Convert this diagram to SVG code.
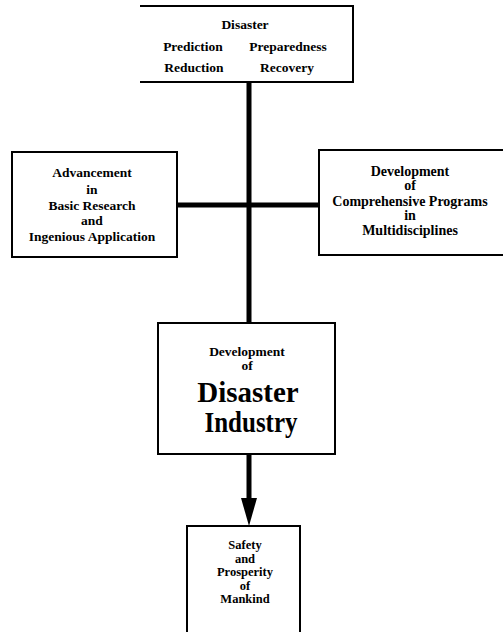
<svg xmlns="http://www.w3.org/2000/svg" width="503" height="632" viewBox="0 0 503 632">
<style>
.box{fill:#fff;stroke:#000;stroke-width:2}
.t{font-family:"Liberation Serif","Times New Roman",serif;font-weight:bold;font-size:13.5px;text-anchor:middle;fill:#000}
.big{font-size:29px}
.sm{font-size:12.5px}
.con{stroke:#000;stroke-width:5;fill:none}
</style>
<rect width="503" height="632" fill="#fff"/>
<g id="connectors">
<line class="con" x1="249" y1="82" x2="249" y2="323"/>
<line class="con" x1="177" y1="205" x2="319" y2="205"/>
<line class="con" x1="249" y1="454" x2="249" y2="502"/>
<polygon points="241,498 257,498 249,526" fill="#000"/>
</g>
<g id="n-disaster">
<path class="box" d="M140,6 H353 V82 H140"/>
<text class="t" x="245" y="29">Disaster</text>
<text class="t" x="193" y="51">Prediction</text>
<text class="t" x="288" y="51">Preparedness</text>
<text class="t" x="194" y="72">Reduction</text>
<text class="t" x="287" y="72">Recovery</text>
</g>
<g id="n-advancement">
<rect class="box" x="12" y="152" width="165" height="105"/>
<text class="t" x="92" y="177">Advancement</text>
<text class="t" x="92" y="194">in</text>
<text class="t" x="92" y="210">Basic Research</text>
<text class="t" x="92" y="225">and</text>
<text class="t" x="92" y="241">Ingenious Application</text>
</g>
<g id="n-development">
<path class="box" d="M505,150 H319 V255 H505"/>
<text class="t" x="410" y="176" style="font-size:14px">Development</text>
<text class="t" x="410" y="190" style="font-size:14px">of</text>
<text class="t" x="410" y="206" style="font-size:14px">Comprehensive Programs</text>
<text class="t" x="410" y="220" style="font-size:14px">in</text>
<text class="t" x="410" y="235" style="font-size:14px">Multidisciplines</text>
</g>
<g id="n-industry">
<rect class="box" x="158" y="323" width="177" height="131"/>
<text class="t" x="247" y="356">Development</text>
<text class="t" x="247" y="370">of</text>
<text class="t big" x="248" y="402">Disaster</text>
<text class="t big" x="251" y="432" textLength="93" lengthAdjust="spacingAndGlyphs">Industry</text>
</g>
<g id="n-safety">
<path class="box" d="M187,640 V526 H300 V640"/>
<text class="t sm" x="245" y="549">Safety</text>
<text class="t sm" x="245" y="562.5">and</text>
<text class="t sm" x="245" y="576">Prosperity</text>
<text class="t sm" x="245" y="589.5">of</text>
<text class="t sm" x="245" y="603">Mankind</text>
</g>
</svg>
